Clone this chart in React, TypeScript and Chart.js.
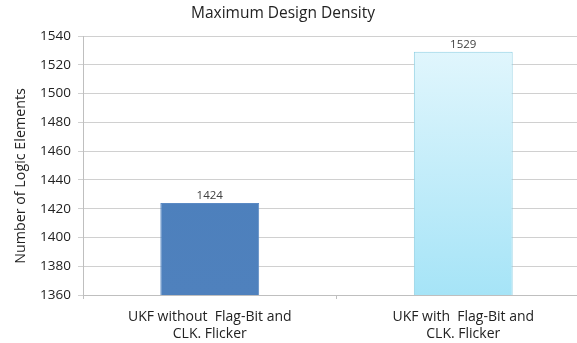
import React, { useEffect, useRef } from "react";
import { Chart, registerables } from "chart.js";

Chart.register(...registerables);

const chartTitle = "Maximum Design Density";
const yAxisTitle = "Number of Logic Elements";
const categories: string[][] = [
  ["UKF without  Flag-Bit and", "CLK. Flicker"],
  ["UKF with  Flag-Bit and", "CLK. Flicker"],
];
const logicElements: number[] = [1424, 1529];
const yMin = 1360;
const yMax = 1540;
const yStep = 20;

const FONT = "'Open Sans', 'Noto Sans', sans-serif";

// Value printed above each bar
const valueLabels = {
  id: "valueLabels",
  afterDatasetsDraw(chart: any) {
    const { ctx } = chart;
    const meta = chart.getDatasetMeta(0);
    ctx.save();
    ctx.font = `11.5px ${FONT}`;
    ctx.fillStyle = "#404040";
    ctx.textAlign = "center";
    ctx.textBaseline = "alphabetic";
    meta.data.forEach((bar: any, i: number) => {
      ctx.fillText(String(logicElements[i]), bar.x, bar.y - 4);
    });
    ctx.restore();
  },
};

// Heading and vertical axis caption at fixed spots on the visible canvas
const captionsPlugin = {
  id: "captions",
  afterDraw(chart: any) {
    const { ctx } = chart;
    ctx.save();
    ctx.fillStyle = "#222";
    ctx.textAlign = "center";
    ctx.textBaseline = "middle";
    ctx.font = `15.5px ${FONT}`;
    ctx.fillText(chartTitle, 283, 14);
    ctx.translate(21, 176);
    ctx.rotate(-Math.PI / 2);
    ctx.font = `14.3px ${FONT}`;
    ctx.fillText(yAxisTitle, 0, 0);
    ctx.restore();
  },
};

function barFill(ctx: any, i: number) {
  const chart = ctx.chart;
  const area = chart.chartArea;
  if (!area) return i === 0 ? "#4F81BD" : "#C8EFFB";
  const g = chart.ctx.createLinearGradient(0, area.top, 0, area.bottom);
  if (i === 0) {
    g.addColorStop(0, "#4A7EBB");
    g.addColorStop(1, "#4F81BD");
  } else {
    g.addColorStop(0, "#E4F7FD");
    g.addColorStop(1, "#A6E4F7");
  }
  return g;
}

export default function App() {
  const ref = useRef<HTMLCanvasElement>(null);
  useEffect(() => {
    document.body.style.margin = "0";
    const chart = new Chart(ref.current!, {
      type: "bar",
      data: {
        labels: categories,
        datasets: [
          {
            data: logicElements,
            backgroundColor: (c: any) => barFill(c, c.dataIndex),
            borderColor: ["#5B8AC4", "#8FD0E3"],
            borderWidth: 1,
            barPercentage: 0.78,
            categoryPercentage: 0.5,
          },
        ],
      },
      options: {
        animation: false,
        responsive: false,
        maintainAspectRatio: false,
        layout: { padding: { top: 36, right: 0, bottom: 0, left: 6 } },
        plugins: {
          legend: { display: false },
          tooltip: { enabled: false },
          title: { display: false },
        },
        scales: {
          x: {
            afterFit: (s: any) => {
              s.height = 48;
            },
            grid: {
              display: true,
              drawOnChartArea: false,
              drawTicks: true,
              tickLength: 4,
              offset: true,
              color: "#BFBFBF",
            },
            border: { color: "#BFBFBF" },
            ticks: {
              color: "#222",
              font: { family: FONT, size: 14, lineHeight: 1.2 },
              maxRotation: 0,
              padding: 10,
            },
          },
          y: {
            min: yMin,
            max: yMax,
            afterFit: (s: any) => {
              s.width = 77;
            },
            ticks: {
              stepSize: yStep,
              color: "#222",
              font: { family: FONT, size: 13.5 },
              padding: 7,
              callback: (v: any) => String(v),
            },
            grid: { color: "#D0D0D0", tickLength: 5 },
            border: { color: "#BFBFBF" },
            title: { display: false },
          },
        },
      },
      plugins: [valueLabels, captionsPlugin],
    });
    return () => chart.destroy();
  }, []);
  return (
    <div style={{ width: 577, height: 343, overflow: "hidden", background: "#fff" }}>
      <canvas ref={ref} width={590} height={343} />
    </div>
  );
}
